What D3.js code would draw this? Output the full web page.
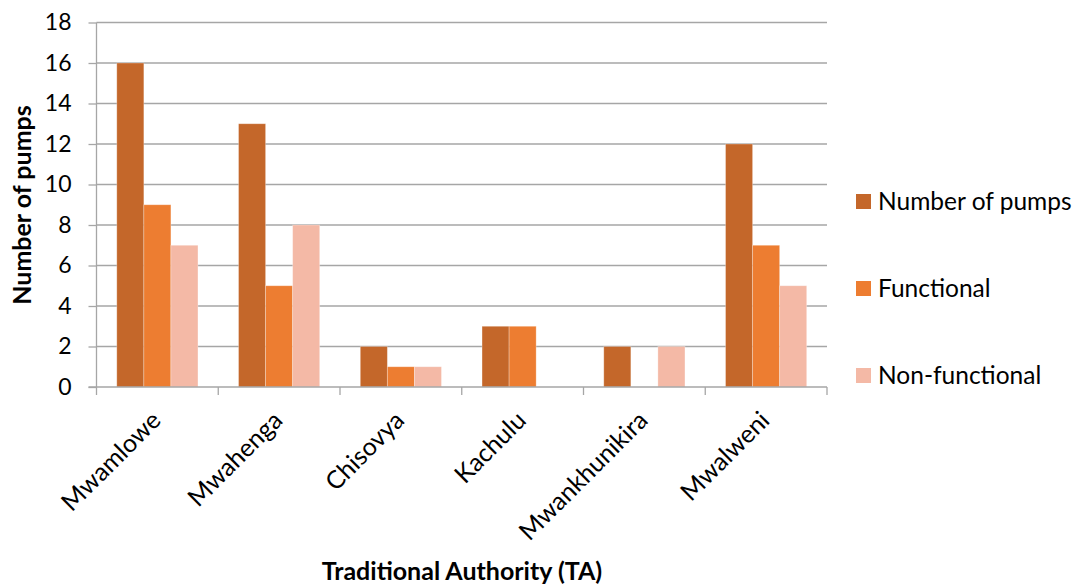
<!DOCTYPE html>
<html><head><meta charset="utf-8">
<script src="https://cdn.jsdelivr.net/npm/d3@7"></script>
<style>html,body{margin:0;padding:0;background:#fff;} svg{display:block;}</style>
</head><body>
<svg id="chart" width="1079" height="586"></svg>
<script>
const categories = ["Mwamlowe","Mwahenga","Chisovya","Kachulu","Mwankhunikira","Mwalweni"];
const seriesNames = ["Number of pumps","Functional","Non-functional"];
const numberOfPumps = [16,13,2,3,2,12];
const functional = [9,5,1,3,0,7];
const nonFunctional = [7,8,1,0,2,5];
const yTicks = [0,2,4,6,8,10,12,14,16,18];
const colors = ["#C4672A","#ED7D31","#F4B9A6"];

(function(){
const series = [numberOfPumps, functional, nonFunctional];
const FONT = "Lato, 'Open Sans', sans-serif";
const svg = d3.select("#chart");
const pLeft = 96.5, pRight = 827, pTop = 22.5, pBottom = 387;

const x = d3.scaleBand().domain(categories).range([pLeft, pRight]).padding(0);
const bw = x.bandwidth();
const gap = bw * (1.5/4.5);
const xs = d3.scaleBand().domain(seriesNames).range([gap/2, bw - gap/2]).padding(0);
const y = d3.scaleLinear().domain([0,18]).range([pBottom, pTop]);

// gridlines
svg.append("g").selectAll("line").data(yTicks.filter(d=>d>0)).join("line")
  .attr("x1", pLeft).attr("x2", pRight)
  .attr("y1", d=>y(d)).attr("y2", d=>y(d))
  .attr("stroke", "#A6A6A6").attr("stroke-width", 1.3);

// bars
const rows = [];
categories.forEach((c,i)=>seriesNames.forEach((s,j)=>rows.push({c, s, j, v: series[j][i]})));
svg.append("g").selectAll("rect").data(rows.filter(r=>r.v>0)).join("rect")
  .attr("x", r=>x(r.c)+xs(r.s))
  .attr("width", xs.bandwidth())
  .attr("y", r=>y(r.v))
  .attr("height", r=>y(0)-y(r.v))
  .attr("fill", r=>colors[r.j])
  .attr("stroke", "#fff").attr("stroke-opacity", 0.35).attr("stroke-width", 0.8);

// y axis
const yAxis = d3.axisLeft(y).tickValues(yTicks).tickSize(8).tickPadding(17);
const gy = svg.append("g").attr("transform", `translate(${pLeft},0)`).call(yAxis);
gy.select(".domain").attr("stroke", "#A6A6A6").attr("stroke-width", 1.3).attr("d", `M0,${pTop}V${pBottom}`);
gy.selectAll(".tick line").attr("stroke", "#A6A6A6").attr("stroke-width", 1.3);
gy.selectAll(".tick text").attr("font-family", FONT).attr("font-size", 23).attr("fill", "#000");

// x axis
const xAxis = d3.axisBottom(x).tickSize(0).tickFormat("");
const gx = svg.append("g").attr("transform", `translate(0,${pBottom})`).call(xAxis);
gx.select(".domain").attr("stroke", "#A6A6A6").attr("stroke-width", 1.3).attr("d", `M${pLeft-8},0H${pRight}`);
const bounds = categories.map(c=>x(c)).concat([pRight]);
gx.append("g").selectAll("line").data(bounds).join("line")
  .attr("x1", d=>d).attr("x2", d=>d).attr("y1", 0).attr("y2", 8)
  .attr("stroke", "#A6A6A6").attr("stroke-width", 1.3);

// x labels rotated
svg.append("g").selectAll("text").data(categories).join("text")
  .attr("transform", c=>`translate(${x(c)+bw/2+5},${422}) rotate(-45)`)
  .attr("text-anchor", "end")
  .attr("font-family", FONT).attr("font-size", 25).attr("fill", "#000")
  .text(c=>c);

// axis titles
svg.append("text")
  .attr("transform", `translate(31,205) rotate(-90)`)
  .attr("text-anchor", "middle")
  .attr("font-family", FONT).attr("font-size", 25).attr("font-weight", "bold")
  .text("Number of pumps");
svg.append("text")
  .attr("x", 462).attr("y", 580)
  .attr("text-anchor", "middle")
  .attr("font-family", FONT).attr("font-size", 25).attr("font-weight", "bold")
  .text("Traditional Authority (TA)");

// legend
const legY = [201.5, 288.5, 375.5];
const lg = svg.append("g").selectAll("g").data(seriesNames).join("g")
  .attr("transform", (d,i)=>`translate(856,${legY[i]})`);
lg.append("rect").attr("x",0).attr("y",-7.5).attr("width",15).attr("height",15)
  .attr("fill", (d,i)=>colors[i]);
lg.append("text").attr("x", 22).attr("y", 0).attr("dy", "0.36em")
  .attr("font-family", FONT).attr("font-size", 24.5).attr("fill", "#000")
  .text(d=>d);
})();
</script>
</body></html>
